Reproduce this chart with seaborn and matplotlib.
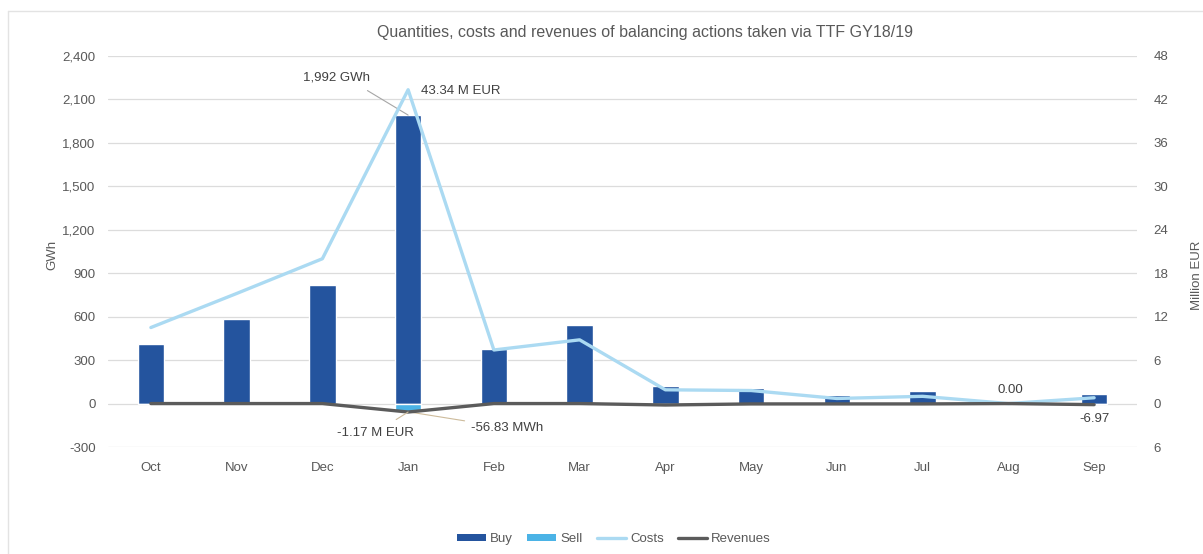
import numpy as np
import pandas as pd
import matplotlib
matplotlib.use("Agg")
import matplotlib.pyplot as plt
import seaborn as sns
from matplotlib.patches import Patch
from matplotlib.lines import Line2D
from matplotlib.ticker import FuncFormatter

# ---- data ----
months = ["Oct", "Nov", "Dec", "Jan", "Feb", "Mar", "Apr", "May", "Jun", "Jul", "Aug", "Sep"]
buy_gwh = [410, 585, 820, 1992, 380, 545, 120, 110, 60, 85, 5, 65]
sell_gwh = [0, 0, 0, -56.83, 0, 0, 0, 0, 0, 0, 0, 0]
costs_meur = [10.5, 15.2, 20.0, 43.34, 7.4, 8.8, 1.9, 1.8, 0.7, 1.0, 0.0, 0.8]
revenues_meur = [0, 0, 0, -1.17, 0, 0, -0.2, -0.05, -0.05, -0.05, 0.0, -0.15]
left_ticks = [-300, 0, 300, 600, 900, 1200, 1500, 1800, 2100, 2400]
right_ticks = [-6, 0, 6, 12, 18, 24, 30, 36, 42, 48]

title = "Quantities, costs and revenues of balancing actions taken via TTF GY18/19"

C_BUY = "#24549E"
C_SELL = "#4BB3E6"
C_COST = "#ABDAF2"
C_REV = "#5B5B5B"
C_TXT = "#595959"
C_GRID = "#DCDCDC"

sns.set_theme(style="white")
plt.rcParams["font.family"] = ["Liberation Sans", "DejaVu Sans"]

FS = 9.5

fig = plt.figure(figsize=(12.03, 5.54), dpi=100)
ax = fig.add_axes([108 / 1203, 1 - 447 / 554, 1029 / 1203, 391 / 554])

df = pd.DataFrame({"month": months, "Buy": buy_gwh, "Sell": sell_gwh})
sns.barplot(data=df, x="month", y="Buy", order=months, color=C_BUY, width=0.31,
            saturation=1, ax=ax, zorder=2)
sns.barplot(data=df, x="month", y="Sell", order=months, color=C_SELL, width=0.31,
            saturation=1, ax=ax, zorder=2)

ax.set_xlim(-0.5, len(months) - 0.5)
ax.set_ylim(left_ticks[0], left_ticks[-1])
ax.set_yticks(left_ticks)
ax.yaxis.set_major_formatter(FuncFormatter(lambda v, p: f"{int(v):,}"))
ax.grid(axis="y", color=C_GRID, linewidth=0.9, zorder=0)
ax.set_axisbelow(True)
for s in ax.spines.values():
    s.set_visible(False)
ax.tick_params(axis="both", length=0, labelsize=FS, colors=C_TXT)
ax.tick_params(axis="x", pad=11)
ax.tick_params(axis="y", pad=9)
ax.set_xlabel("")
ax.set_ylabel("GWh", fontsize=FS, color=C_TXT)
ax.yaxis.set_label_coords(-0.048, 0.49)

ax2 = ax.twinx()
x_pos = np.arange(len(months))
ldf = pd.DataFrame({"x": x_pos, "Costs": costs_meur, "Revenues": revenues_meur})
sns.lineplot(data=ldf, x="x", y="Costs", color=C_COST, linewidth=2.4, ax=ax2, sort=False)
sns.lineplot(data=ldf, x="x", y="Revenues", color=C_REV, linewidth=2.4, ax=ax2, sort=False)
ax2.set_ylim(right_ticks[0], right_ticks[-1])
ax2.set_yticks(right_ticks)
ax2.yaxis.set_major_formatter(FuncFormatter(lambda v, p: f"{abs(int(round(v)))}"))
ax2.set_xlim(-0.5, len(months) - 0.5)
for s in ax2.spines.values():
    s.set_visible(False)
ax2.tick_params(axis="y", length=0, labelsize=FS, colors=C_TXT, pad=12)
ax2.set_ylabel("Million EUR", fontsize=FS, color=C_TXT)
ax2.yaxis.set_label_coords(1.052, 0.44)
ax2.set_xlabel("")

fig.text(645 / 1203, 1 - 32 / 554, title, ha="center", va="center", fontsize=11.5, color=C_TXT)

# ---- annotations ----
ann_kw = dict(fontsize=FS, color="#404040", ha="center", va="center")
ax.annotate("1,992 GWh", xy=(3.0, buy_gwh[3]), xytext=(2.16, 2250),
            arrowprops=dict(arrowstyle="-", color="#A6A6A6", lw=0.8,
                            connectionstyle="arc,angleA=0,armA=10,angleB=0,armB=0,rad=0",
                            shrinkA=5, shrinkB=0), **ann_kw)
ax.text(3.61, 2160, "43.34 M EUR", **ann_kw)
ax2.annotate("-1.17 M EUR", xy=(3.0, revenues_meur[3]), xytext=(2.62, -4.0),
             arrowprops=dict(arrowstyle="-", color="#CDBB9B", lw=0.8, shrinkA=5, shrinkB=0),
             **ann_kw)
ax.annotate("-56.83 MWh", xy=(3.0, sell_gwh[3]), xytext=(4.15, -166),
            arrowprops=dict(arrowstyle="-", color="#CDBB9B", lw=0.8, shrinkA=2, shrinkB=0),
            **ann_kw)
ax.text(10.02, 97, "0.00", **ann_kw)
ax.text(11.0, -110, "-6.97", **ann_kw)

# ---- legend ----
handles = [
    Patch(facecolor=C_BUY, edgecolor="none", label="Buy"),
    Patch(facecolor=C_SELL, edgecolor="none", label="Sell"),
    Line2D([0], [0], color=C_COST, lw=2.4, label="Costs"),
    Line2D([0], [0], color=C_REV, lw=2.4, label="Revenues"),
]
leg = fig.legend(handles=handles, loc="center", bbox_to_anchor=(614 / 1203, 1 - 539 / 554),
                 ncol=4, frameon=False, fontsize=9.5, handlelength=2.2, handleheight=0.5,
                 columnspacing=1.1, handletextpad=0.3)
for t in leg.get_texts():
    t.set_color(C_TXT)

# outer chart border
fig.add_artist(Line2D([8 / 1203, 8 / 1203], [0, 1 - 11 / 554], transform=fig.transFigure,
                      color="#E3E3E3", lw=1))
fig.add_artist(Line2D([8 / 1203, 1], [1 - 11 / 554, 1 - 11 / 554], transform=fig.transFigure,
                      color="#E3E3E3", lw=1))

fig.savefig("out.png", dpi=100, facecolor="white")
